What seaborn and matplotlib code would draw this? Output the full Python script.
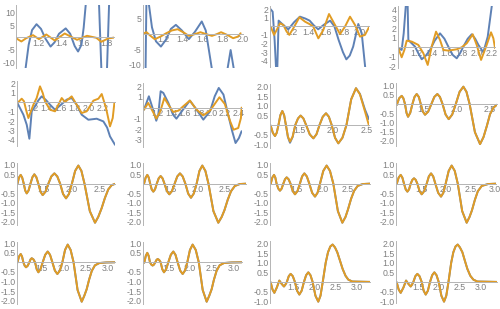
import matplotlib.pyplot as plt
from matplotlib.ticker import AutoMinorLocator
import seaborn as sns

sns.set_style("white")
plt.rcParams['font.family'] = ['Liberation Sans', 'DejaVu Sans']
plt.rcParams['axes.unicode_minus'] = False

BLUE = "#5e81b5"
ORANGE = "#e19c24"
AXIS = "#b4b4b4"
LABEL = "#808080"

# ---- row 1 ----
bx1 = [1.0, 1.07, 1.083, 1.11, 1.14, 1.18, 1.22, 1.26, 1.305, 1.34, 1.38, 1.44, 1.48, 1.52, 1.55, 1.58, 1.6,
       1.618, 1.65, 1.7, 1.737, 1.757, 1.78, 1.808, 1.826, 1.86]
by1 = [-60, -20, -12.4, -3, 3, 5.4, 3.5, -0.5, -3.7, -2, 1.5, 3.7, 1.5, -3.5, -5.7, -3, 4,
       13.2, 35, 35, 13.2, -12.3, -30, -12.3, 13.2, 50]
ox1 = [1.006, 1.045, 1.089, 1.149, 1.202, 1.267, 1.342, 1.431, 1.541, 1.63, 1.713, 1.757, 1.817, 1.876]
oy1 = [-0.54, -1.62, -0.27, 0.95, -0.68, 1.22, -1.22, 1.62, -0.95, 0.68, -0.14, -1.76, -0.41, 0.0]

bx2 = [1.0, 1.026, 1.03, 1.034, 1.045, 1.06, 1.09, 1.13, 1.18, 1.23, 1.28, 1.33, 1.39, 1.46, 1.52, 1.59,
       1.63, 1.66, 1.69, 1.75, 1.85, 1.88, 1.91, 1.96, 1.98]
by2 = [-30, -11.1, 0, 9.2, 20, 9.2, 2, -2.5, -4.2, -2, 1.5, 2.8, 1, -1.8, 0.5, 3.9,
       1, -5, -11.1, -25, -11.1, -5.3, -11.1, -25, -30]
ox2 = [1.0, 1.01, 1.036, 1.07, 1.118, 1.18, 1.233, 1.29, 1.348, 1.41, 1.462, 1.52, 1.577, 1.635, 1.692,
       1.74, 1.784, 1.85, 1.905, 1.954, 1.98]
oy2 = [0.0, 0.1, 0.43, -0.6, -1.83, -0.9, 0.1, 1.0, 1.4, 0.3, -0.75, -0.2, 0.43, -0.2, -0.75,
       -0.2, 0.43, -0.5, -1.5, -0.97, 0.1]

bx3 = [0.954, 0.977, 1.0, 1.016, 1.024, 1.032, 1.047, 1.08, 1.12, 1.16, 1.23, 1.297, 1.36, 1.41, 1.46,
       1.51, 1.58, 1.65, 1.7, 1.75, 1.8, 1.84, 1.88, 1.92, 1.98, 2.02, 2.06, 2.09]
by3 = [1.98, 1.7, -1.6, -4.7, -7, -4.7, 0.66, 0.35, 0.0, -0.35, 0.5, 1.12, 0.9, 0.66, 0.1,
       -0.35, 0.2, 0.66, 0, -1.6, -3.0, -3.84, -3.4, -2.36, 0.27, -0.8, -4.7, -8]
ox3 = [0.954, 0.993, 1.024, 1.063, 1.102, 1.14, 1.172, 1.219, 1.29, 1.356, 1.414, 1.453, 1.512, 1.57,
       1.637, 1.707, 1.766, 1.824, 1.883, 1.941, 2.0, 2.058, 2.109]
oy3 = [-0.04, -1.0, -0.43, 0.35, 0.16, -0.6, -1.0, -0.23, 1.05, 0.54, 0.23, -0.04, -1.4, -0.43,
       1.43, 0.16, -0.9, -0.04, 1.12, 0.16, -1.2, -1.0, -0.04]

bx4 = [0.956, 1.0, 1.027, 1.054, 1.067, 1.08, 1.089, 1.13, 1.178, 1.22, 1.267, 1.32, 1.378, 1.44, 1.511,
       1.57, 1.622, 1.68, 1.734, 1.78, 1.822, 1.88, 1.934, 1.98, 2.023, 2.089, 2.147, 2.2, 2.22]
by4 = [-0.1, -0.28, 1.47, 4.28, 5.5, 4.28, 0.77, 0.45, 0.07, -0.6, -1.26, -0.9, -0.28, 0.7, 1.47,
       0.9, 0.07, -0.8, -1.16, -0.6, 0.07, 0.9, 1.37, 0.9, 0.25, -0.53, 1.12, 4.28, 5.5]
ox4 = [0.956, 1.0, 1.036, 1.067, 1.134, 1.222, 1.289, 1.347, 1.4, 1.458, 1.511, 1.556, 1.622, 1.734,
       1.8, 1.867, 1.947, 2.0, 2.058, 2.125, 2.191, 2.222, 2.245]
oy4 = [-0.1, -1.05, -0.28, 0.7, 0.6, 0.25, -0.63, -1.86, 0.07, 1.65, 0.77, -0.28, -0.35, -0.21,
       0.0, 0.42, 1.37, 0.25, -1.33, 0.07, 1.58, 0.95, -0.1]

# ---- row 2 ----
bx5 = [0.98, 1.066, 1.114, 1.152, 1.186, 1.233, 1.28, 1.329, 1.39, 1.449, 1.521, 1.6, 1.689, 1.76,
       1.832, 1.904, 2.0, 2.12, 2.216, 2.27, 2.311, 2.383]
by5 = [-0.07, -1.32, -2.39, -3.89, -0.96, -0.43, 0.2, 0.64, 0.25, -0.25, -0.79, -0.3, 0.29, 0.46,
       -0.25, -1.32, -1.86, -1.75, -2.04, -2.7, -3.64, -4.54]
ox5 = [0.98, 1.042, 1.075, 1.104, 1.138, 1.21, 1.257, 1.305, 1.344, 1.377, 1.449, 1.521, 1.617, 1.665,
       1.76, 1.832, 1.904, 1.976, 2.072, 2.144, 2.192, 2.254, 2.311, 2.35, 2.374]
oy5 = [-0.07, 0.39, 0.11, -0.79, -1.68, -0.25, 0.46, 1.71, 1.0, 0.11, -0.79, -0.96, 0.46, 0.04,
       0.64, -0.25, -1.14, -0.96, 0.18, 0.39, 0.89, -0.61, -2.57, -1.68, -0.07]

bx6 = [0.997, 1.07, 1.14, 1.18, 1.21, 1.245, 1.285, 1.36, 1.43, 1.48, 1.56, 1.68, 1.78, 1.88, 1.98,
       2.05, 2.11, 2.18, 2.25, 2.31, 2.36, 2.41, 2.45]
by6 = [-0.19, 1.06, -0.34, -1.22, -0.66, 1.53, 1.375, 0.44, -0.66, -1.03, -0.34, 0.66, -0.19, -1.12,
       -0.34, 1.06, 1.84, 1.22, -0.66, -2.2, -3.3, -2.84, -2.2]
ox6 = [0.997, 1.06, 1.14, 1.18, 1.24, 1.30, 1.36, 1.43, 1.51, 1.58, 1.68, 1.78, 1.88, 1.98, 2.12, 2.2,
       2.28, 2.33, 2.4, 2.44, 2.45]
oy6 = [-0.19, 0.44, -0.5, -1.03, -0.34, 0.9, 0.28, -0.4, -0.28, 0.12, 0.66, -0.19, -0.72, -0.28, 0.97,
       0.34, -1.28, -2.06, -1.9, -0.97, 0.0]

ox7 = [1.074, 1.106, 1.138, 1.164, 1.19, 1.218, 1.247, 1.274, 1.3, 1.33, 1.361, 1.40, 1.44, 1.48, 1.519,
       1.56, 1.6, 1.654, 1.708, 1.754, 1.8, 1.848, 1.896, 1.938, 1.98, 2.03, 2.079, 2.14, 2.2, 2.27, 2.341,
       2.4, 2.475, 2.534]
oy7 = [-0.03, -0.41, -0.58, -0.41, 0, 0.51, 0.73, 0.51, 0, -0.61, -0.87, -0.61, 0, 0.34, 0.49,
       0.34, 0, -0.49, -0.7, -0.49, 0, 0.43, 0.61, 0.43, 0, -0.67, -0.96, -0.67, 0, 1.34, 1.92,
       1.6, 0.7, -0.03]
by7 = [-0.03, -0.41, -0.58, -0.41, 0, 0.51, 0.73, 0.51, 0, -0.63, -0.93, -0.63, 0, 0.34, 0.49,
       0.34, 0, -0.49, -0.7, -0.49, 0, 0.43, 0.61, 0.43, 0, -0.67, -0.96, -0.67, 0, 1.34, 1.92,
       1.62, 0.8, 0.3]

ox8 = [1.095, 1.133, 1.171, 1.196, 1.221, 1.244, 1.267, 1.30, 1.333, 1.365, 1.398, 1.43, 1.46, 1.492,
       1.524, 1.572, 1.62, 1.665, 1.711, 1.75, 1.79, 1.836, 1.883, 1.936, 1.99, 2.048, 2.105, 2.152, 2.2,
       2.28, 2.358, 2.41, 2.46, 2.509, 2.56, 2.61]
oy8 = [-0.05, 0.32, 0.45, 0.32, 0, -0.48, -0.69, -0.48, 0, 0.39, 0.55, 0.39, 0, -0.41,
       -0.58, -0.41, 0, 0.39, 0.55, 0.39, 0, -0.57, -0.82, -0.57, 0, 0.67, 0.95, 0.67, 0,
       -1.53, -2.18, -1.8, -1.2, -0.55, -0.2, -0.04]

# ---- row 3 ----
ox9 = [1.036, 1.065, 1.095, 1.122, 1.15, 1.176, 1.203, 1.236, 1.27, 1.305, 1.339, 1.375, 1.41, 1.449,
       1.488, 1.539, 1.59, 1.643, 1.697, 1.749, 1.80, 1.852, 1.905, 1.958, 2.01, 2.068, 2.125, 2.18, 2.235,
       2.33, 2.423, 2.48, 2.54, 2.6, 2.66, 2.72, 2.78]
oy9 = [-0.02, 0.32, 0.46, 0.32, 0, -0.36, -0.51, -0.36, 0, 0.34, 0.49, 0.34, 0, -0.42,
       -0.6, -0.42, 0, 0.38, 0.54, 0.38, 0, -0.54, -0.77, -0.54, 0, 0.67, 0.95, 0.67, 0,
       -1.44, -2.05, -1.75, -1.3, -0.75, -0.3, -0.08, -0.01]

ox10 = [1.027, 1.058, 1.088, 1.114, 1.14, 1.168, 1.197, 1.228, 1.26, 1.295, 1.33, 1.365, 1.40, 1.444,
        1.488, 1.536, 1.585, 1.633, 1.682, 1.731, 1.78, 1.831, 1.882, 1.933, 1.985, 2.036, 2.088, 2.144,
        2.2, 2.29, 2.379, 2.44, 2.49, 2.55, 2.61, 2.68, 2.77, 2.894]
oy10 = [-0.02, 0.32, 0.46, 0.32, 0, -0.3, -0.42, -0.3, 0, 0.28, 0.4, 0.28, 0, -0.39,
        -0.56, -0.39, 0, 0.38, 0.54, 0.38, 0, -0.52, -0.74, -0.52, 0, 0.67, 0.95, 0.67,
        0, -1.44, -2.05, -1.75, -1.4, -0.85, -0.4, -0.12, -0.02, 0]

ox11 = [0.983, 1.016, 1.049, 1.075, 1.10, 1.134, 1.167, 1.20, 1.233, 1.266, 1.299, 1.337, 1.375, 1.419,
        1.463, 1.512, 1.56, 1.604, 1.648, 1.697, 1.746, 1.802, 1.858, 1.908, 1.957, 2.022, 2.088, 2.154,
        2.22, 2.31, 2.398, 2.46, 2.51, 2.57, 2.63, 2.7, 2.8, 2.944]
oy11 = [-0.02, 0.32, 0.46, 0.32, 0, -0.26, -0.37, -0.26, 0, 0.23, 0.33, 0.23, 0, -0.39,
        -0.56, -0.39, 0, 0.38, 0.54, 0.38, 0, -0.48, -0.68, -0.48, 0, 0.67, 0.95, 0.67,
        0, -1.44, -2.05, -1.75, -1.35, -0.8, -0.38, -0.12, -0.02, 0]

ox12 = [0.99, 1.031, 1.072, 1.106, 1.14, 1.175, 1.209, 1.243, 1.277, 1.311, 1.345, 1.379, 1.413, 1.458,
        1.502, 1.553, 1.604, 1.648, 1.693, 1.737, 1.781, 1.839, 1.897, 1.945, 1.992, 2.054, 2.115, 2.178,
        2.24, 2.33, 2.422, 2.48, 2.53, 2.59, 2.65, 2.73, 2.86, 3.035]
oy12 = [-0.02, 0.32, 0.46, 0.32, 0, -0.3, -0.42, -0.3, 0, 0.2, 0.28, 0.2, 0, -0.39,
        -0.56, -0.39, 0, 0.38, 0.54, 0.38, 0, -0.48, -0.68, -0.48, 0, 0.67, 0.95, 0.67,
        0, -1.44, -2.05, -1.75, -1.4, -0.85, -0.4, -0.12, -0.02, 0]

# ---- row 4 ----
ox13 = [0.955, 0.992, 1.03, 1.06, 1.09, 1.12, 1.15, 1.188, 1.225, 1.252, 1.278, 1.316, 1.353, 1.39,
        1.428, 1.476, 1.525, 1.582, 1.638, 1.69, 1.743, 1.799, 1.855, 1.912, 1.968, 2.028, 2.088, 2.154,
        2.22, 2.31, 2.403, 2.46, 2.515, 2.57, 2.63, 2.7, 2.8, 2.95, 3.153]
oy13 = [-0.02, 0.3, 0.43, 0.3, 0, -0.18, -0.26, -0.18, 0, 0.15, 0.21, 0.15, 0, -0.36,
        -0.52, -0.36, 0, 0.39, 0.56, 0.39, 0, -0.43, -0.61, -0.43, 0, 0.64, 0.92, 0.64,
        0, -1.44, -2.05, -1.75, -1.4, -0.9, -0.45, -0.16, -0.04, -0.01, 0]

ox14 = [0.943, 0.978, 1.012, 1.043, 1.074, 1.105, 1.135, 1.166, 1.197, 1.224, 1.251, 1.286, 1.32, 1.358,
        1.397, 1.447, 1.497, 1.555, 1.612, 1.662, 1.712, 1.77, 1.828, 1.882, 1.935, 1.996, 2.058, 2.13,
        2.2, 2.29, 2.382, 2.44, 2.497, 2.55, 2.61, 2.68, 2.78, 2.95, 3.189]
oy14 = [-0.02, 0.34, 0.49, 0.34, 0, -0.12, -0.17, -0.12, 0, 0.12, 0.17, 0.12, 0, -0.36,
        -0.52, -0.36, 0, 0.39, 0.56, 0.39, 0, -0.43, -0.61, -0.43, 0, 0.64, 0.92, 0.64,
        0, -1.44, -2.05, -1.75, -1.4, -0.9, -0.45, -0.16, -0.04, -0.01, 0]

ox15 = [0.966, 1.01, 1.053, 1.11, 1.171, 1.226, 1.281, 1.315, 1.35, 1.395, 1.439, 1.49, 1.54, 1.592,
        1.645, 1.70, 1.755, 1.806, 1.858, 1.909, 1.96, 2.027, 2.094, 2.147, 2.2, 2.27, 2.325, 2.38, 2.434,
        2.49, 2.544, 2.61, 2.671, 2.74, 2.805, 2.9, 3.318]
oy15 = [-0.02, -0.4, -0.57, -0.3, 0.07, -0.1, -0.24, -0.14, 0, 0.3, 0.42, 0.3, 0, -0.46,
        -0.66, -0.46, 0, 0.35, 0.5, 0.35, 0, -0.72, -1.03, -0.72, 0, 1.0, 1.55, 1.85, 1.95,
        1.8, 1.55, 1.1, 0.68, 0.32, 0.12, 0.02, 0]

ox16 = [0.979, 1.027, 1.075, 1.14, 1.204, 1.26, 1.316, 1.348, 1.38, 1.428, 1.476, 1.528, 1.58, 1.628,
        1.677, 1.729, 1.781, 1.833, 1.885, 1.937, 1.989, 2.054, 2.118, 2.172, 2.225, 2.29, 2.342, 2.395,
        2.447, 2.5, 2.559, 2.62, 2.679, 2.75, 2.823, 2.92, 3.385]
oy16 = [-0.02, -0.4, -0.57, -0.3, 0.07, -0.1, -0.24, -0.14, 0, 0.3, 0.42, 0.3, 0, -0.46,
        -0.66, -0.46, 0, 0.35, 0.5, 0.35, 0, -0.72, -1.03, -0.72, 0, 1.0, 1.55, 1.85, 1.95,
        1.8, 1.55, 1.1, 0.68, 0.32, 0.12, 0.02, 0]

# tick labels per panel
xt_a = ["1.2", "1.4", "1.6", "1.8"]
xt_b = ["1.2", "1.4", "1.6", "1.8", "2.0"]
xt_c = ["1.2", "1.4", "1.6", "1.8", "2.0", "2.2"]
xt_d = ["1.2", "1.4", "1.6", "1.8", "2.0", "2.2", "2.4"]
xt_e = ["1.5", "2.0", "2.5"]
xt_f = ["1.5", "2.0", "2.5", "3.0"]
yt_1 = ["-10", "-5", "5", "10"]
yt_2 = ["-10", "-5", "5"]
yt_3 = ["-4", "-3", "-2", "-1", "1", "2"]
yt_4 = ["-2", "-1", "1", "2", "3", "4"]
yt_5 = ["-3", "-2", "-1", "1", "2"]
yt_6 = ["-1.0", "-0.5", "0.5", "1.0", "1.5", "2.0"]
yt_7 = ["-2.0", "-1.5", "-1.0", "-0.5", "0.5", "1.0"]

# layout: pixel box (left, right, top, bottom), xlim, ylim
panels = [
    ((16.3, 114, 5, 68), (1.0, 1.87), (-12.4, 13.2), xt_a, yt_1, bx1, by1, ox1, oy1),
    ((143, 242.6, 5, 68), (1.0, 1.98), (-11.1, 9.2), xt_b, yt_2, bx2, by2, ox2, oy2),
    ((270, 369.4, 6, 67), (0.946, 2.11), (-4.73, 2.36), xt_b, yt_3, bx3, by3, ox3, oy3),
    ((397.7, 494.7, 6, 68), (0.947, 2.24), (-2.18, 4.35), xt_c, yt_4, bx4, by4, ox4, oy4),
    ((16.7, 114.8, 81.3, 146.3), (0.97, 2.38), (-4.7, 2.25), xt_c, yt_3, bx5, by5, ox5, oy5),
    ((143.3, 241.6, 83, 147.3), (0.987, 2.45), (-3.7, 2.3), xt_d, yt_5, bx6, by6, ox6, oy6),
    ((270, 368.7, 84, 148.3), (1.064, 2.53), (-1.22, 2.14), xt_e, yt_6, ox7, by7, ox7, oy7),
    ((395.7, 496.7, 83, 146.3), (1.08, 2.61), (-2.3, 1.15), xt_e, yt_7, ox8, oy8, ox8, oy8),
    ((16.7, 115, 162.7, 225), (1.024, 2.78), (-2.17, 1.1), xt_e, yt_7, ox9, oy9, ox9, oy9),
    ((143.3, 246.4, 162.7, 225), (1.015, 2.89), (-2.17, 1.1), xt_e, yt_7, ox10, oy10, ox10, oy10),
    ((270, 370.3, 162.7, 225), (0.97, 2.95), (-2.17, 1.1), xt_e, yt_7, ox11, oy11, ox11, oy11),
    ((395.7, 496.4, 162.7, 225), (0.97, 3.03), (-2.17, 1.1), xt_f, yt_7, ox12, oy12, ox12, oy12),
    ((16.7, 114.9, 241.7, 304), (0.94, 3.15), (-2.17, 1.07), xt_f, yt_7, ox13, oy13, ox13, oy13),
    ((143.3, 241.7, 241.7, 304), (0.92, 3.19), (-2.17, 1.07), xt_f, yt_7, ox14, oy14, ox14, oy14),
    ((270, 370, 240.7, 303), (0.95, 3.32), (-1.1, 2.15), xt_f, yt_6, ox15, oy15, ox15, oy15),
    ((395.7, 496.7, 240.7, 303), (0.955, 3.385), (-1.1, 2.15), xt_f, yt_6, ox16, oy16, ox16, oy16),
]

W, H = 500, 309
fig = plt.figure(figsize=(W / 100, H / 100), dpi=100)

for box, xlim, ylim, xt, yt, xb, yb, xo, yo in panels:
    L, R, T, B = box
    ax = fig.add_axes([L / W, 1 - B / H, (R - L) / W, (B - T) / H])
    ax.patch.set_alpha(0)
    sns.lineplot(x=xb, y=yb, ax=ax, color=BLUE, lw=1.4, estimator=None, sort=False)
    sns.lineplot(x=xo, y=yo, ax=ax, color=ORANGE, lw=1.4, estimator=None, sort=False)
    ax.set_xlim(xlim)
    ax.set_ylim(ylim)
    for s in ["top", "right"]:
        ax.spines[s].set_visible(False)
    ax.spines["bottom"].set_position(("data", 0))
    for s in ["left", "bottom"]:
        ax.spines[s].set_color(AXIS)
        ax.spines[s].set_linewidth(0.7)
    ax.set_xticks([float(v) for v in xt], xt)
    ax.set_yticks([float(v) for v in yt], yt)
    ax.xaxis.set_minor_locator(AutoMinorLocator())
    ax.yaxis.set_minor_locator(AutoMinorLocator())
    ax.tick_params(which="major", direction="in", length=2.5, width=0.6, color=AXIS,
                   labelsize=6.3, labelcolor=LABEL, pad=1)
    ax.tick_params(which="minor", direction="in", length=1.3, width=0.5, color=AXIS)
    ax.set_axisbelow(True)

fig.savefig("out.png", dpi=100)
